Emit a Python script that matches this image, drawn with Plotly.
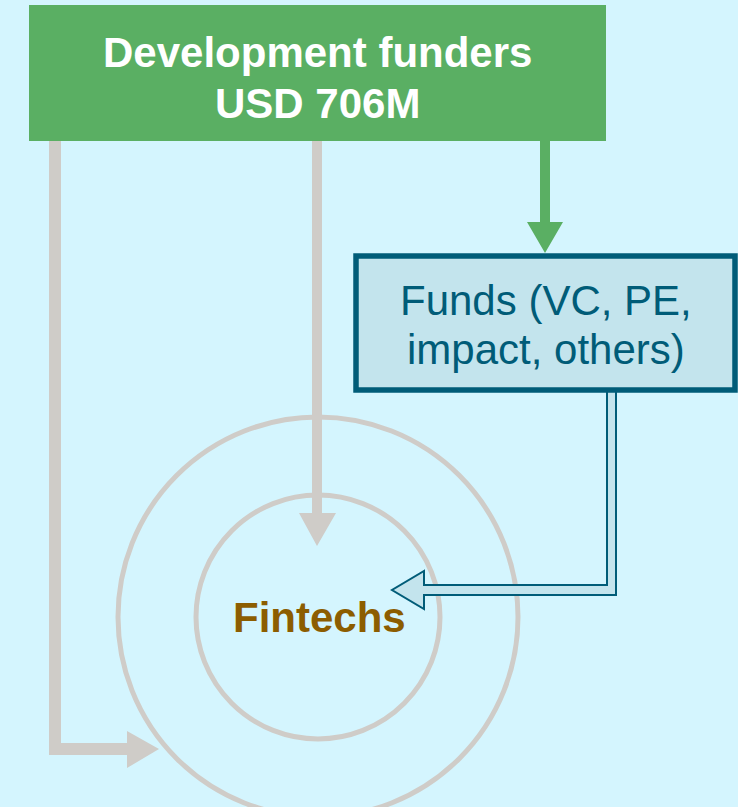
import plotly.graph_objects as go

# ---- data ----
node_names = ["Development funders", "Funds (VC, PE, impact, others)", "Fintechs"]
funder_amount_usd_m = [706]
funder_lines = ["Development funders", f"USD {funder_amount_usd_m[0]}M"]
fund_lines = ["Funds (VC, PE,", "impact, others)"]
fintech_label = ["Fintechs"]

# ---- styles ----
BG = "#D4F5FE"
GREEN = "#5AAF63"
GRAY = "#CFCCC8"
TEAL = "#005C78"
FUND_FILL = "#C3E4ED"
GOLD = "#8C5D00"
FONT = "Liberation Sans, Arial, sans-serif"

W, H = 738, 807

shapes = []

# Target circles (fintech ecosystem)
cx, cy = 318, 617
for r in (200, 122):
    shapes.append(dict(type="circle", x0=cx - r, x1=cx + r, y0=cy - r, y1=cy + r,
                       line=dict(color=GRAY, width=5), fillcolor="rgba(0,0,0,0)", layer="below"))

def poly(pts):
    return "M" + " L".join(f"{x},{y}" for x, y in pts) + " Z"

# Direct gray flow (left)
shapes.append(dict(type="path", path=poly([(49, 141), (61, 141), (61, 743), (127, 743), (127, 731),
                                            (159, 749), (127, 768), (127, 755), (49, 755)]),
                   fillcolor=GRAY, line=dict(width=0)))
# Direct gray flow (middle)
shapes.append(dict(type="path", path=poly([(312, 141), (322, 141), (322, 513), (336, 513), (317, 546),
                                            (299, 513), (312, 513)]),
                   fillcolor=GRAY, line=dict(width=0)))
# Green flow into funds
shapes.append(dict(type="path", path=poly([(540, 141), (550, 141), (550, 222), (563, 222), (545, 253),
                                            (527, 222), (540, 222)]),
                   fillcolor=GREEN, line=dict(width=0)))
# Funds to fintechs (outlined arrow)
shapes.append(dict(type="path", path=poly([(607, 380), (616, 380), (616, 595), (424, 595), (424, 609),
                                            (392, 590), (424, 571), (424, 585), (607, 585)]),
                   fillcolor=FUND_FILL, line=dict(color=TEAL, width=2)))

# Boxes
shapes.append(dict(type="rect", x0=29, x1=606, y0=5, y1=141, fillcolor=GREEN, line=dict(width=0)))
shapes.append(dict(type="rect", x0=356, x1=735, y0=256, y1=390, fillcolor=FUND_FILL,
                   line=dict(color=TEAL, width=5.5)))

annotations = []
for txt, y in zip(funder_lines, (52, 103)):
    annotations.append(dict(x=317, y=y, text=f"<b>{txt}</b>", showarrow=False,
                            xanchor="center", yanchor="middle",
                            font=dict(family=FONT, size=42, color="white")))
for txt, y in zip(fund_lines, (300, 349)):
    annotations.append(dict(x=546, y=y, text=txt, showarrow=False,
                            xanchor="center", yanchor="middle",
                            font=dict(family=FONT, size=42, color=TEAL)))
annotations.append(dict(x=319, y=617, text=f"<b>{fintech_label[0]}</b>", showarrow=False,
                        xanchor="center", yanchor="middle",
                        font=dict(family=FONT, size=42, color=GOLD)))

fig = go.Figure()
fig.add_trace(go.Scatter(x=[0, W], y=[0, H], mode="markers", marker=dict(opacity=0),
                         hoverinfo="skip", showlegend=False))
fig.update_layout(
    width=W, height=H, margin=dict(l=0, r=0, t=0, b=0),
    paper_bgcolor=BG, plot_bgcolor=BG,
    xaxis=dict(range=[0, W], visible=False, fixedrange=True),
    yaxis=dict(range=[H, 0], visible=False, fixedrange=True),
    shapes=shapes, annotations=annotations, showlegend=False,
)
fig.write_html("out.html", config=dict(displayModeBar=False),
               post_script="document.body.style.margin='0';document.body.style.overflow='hidden';")
